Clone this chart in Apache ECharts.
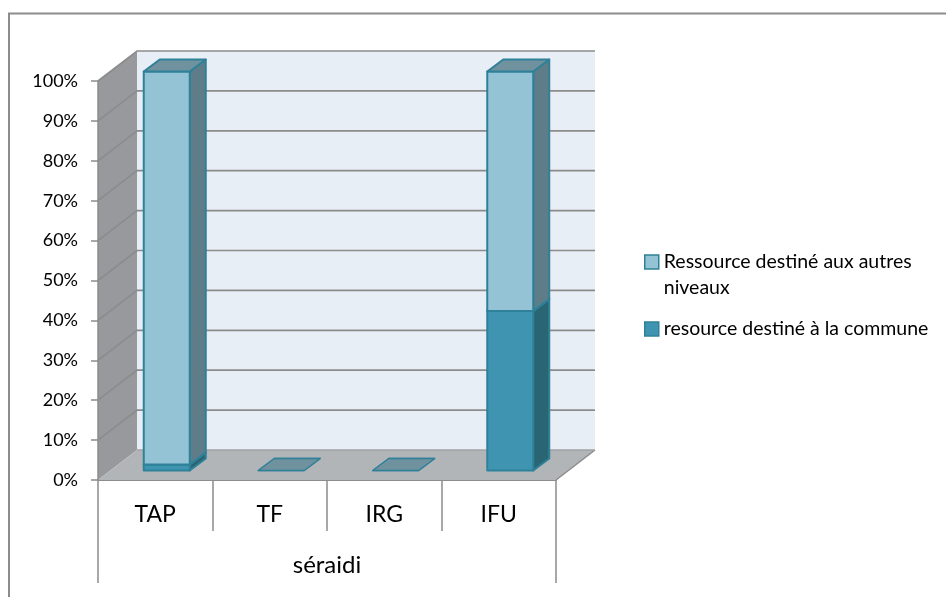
<!DOCTYPE html>
<html><head><meta charset="utf-8">
<style>html,body{margin:0;padding:0;background:#fff}#c{width:946px;height:597px}</style>
<script src="https://cdn.jsdelivr.net/npm/echarts@6/dist/echarts.min.js"></script>
</head><body><div id="c"></div>
<script>
const categories = ['TAP', 'TF', 'IRG', 'IFU'];
const groupLabel = ['séraidi'];
const nameAutres = 'Ressource destiné aux autres niveaux';
const nameCommune = 'resource destiné à la commune';
const communeValues = [1.5, 0, 0, 40];
const autresValues = [98.5, 0, 0, 60];
const yTicks = [0, 10, 20, 30, 40, 50, 60, 70, 80, 90, 100];

const WALL = [39, -30], OFF = [11.5, -9.5], DEPTH = [16, -12], BW = 46;
const LINE = '#8c8c8c';

function poly(points, fill, stroke, lw) {
  return { type: 'polygon', shape: { points }, style: { fill, stroke: stroke || null, lineWidth: lw || 0, lineJoin: 'round' } };
}
function frameRender(params, api) {
  const cs = params.coordSys;
  const x0 = cs.x, w = cs.width, yT = cs.y, y0 = cs.y + cs.height;
  const [dx, dy] = WALL;
  return { type: 'group', children: [
    poly([[x0+dx, yT+dy],[x0+dx+w, yT+dy],[x0+dx+w, y0+dy],[x0+dx, y0+dy]], '#e8eef5'),
    poly([[x0, yT],[x0+dx, yT+dy],[x0+dx, y0+dy],[x0, y0]], '#97999c'),
    poly([[x0, y0],[x0+dx, y0+dy],[x0+dx+w, y0+dy],[x0+w, y0]], '#b2b5b8'),
    { type: 'line', shape: { x1: x0+w, y1: y0, x2: x0+w+dx, y2: y0+dy }, style: { stroke: LINE, lineWidth: 1.5 } },
    { type: 'line', shape: { x1: x0, y1: yT, x2: x0, y2: y0 }, style: { stroke: LINE, lineWidth: 1.5 } },
    { type: 'line', shape: { x1: x0+dx, y1: y0+dy, x2: x0+dx+w, y2: y0+dy }, style: { stroke: '#a0a2a5', lineWidth: 1.5 } }
  ]};
}
function gridRender(params, api) {
  const cs = params.coordSys;
  const y = api.coord([0, api.value(0)])[1];
  const x = cs.x, w = cs.width;
  const [dx, dy] = WALL;
  return { type: 'polyline', shape: { points: [[x, y], [x+dx, y+dy], [x+dx+w, y+dy]] }, style: { stroke: LINE, lineWidth: 1.7, fill: null } };
}
function barRender(colors) {
  return function (params, api) {
    const i = api.value(0);
    const lo = api.coord([i, api.value(1)]);
    const hi = api.coord([i, api.value(2)]);
    const x0 = lo[0] + OFF[0] - BW/2, x1 = x0 + BW;
    const yb = lo[1] + OFF[1], yt = hi[1] + OFF[1];
    const [dx, dy] = DEPTH;
    const kids = [];
    const flat = yb - yt < 0.5;
    const lw = flat ? 1.3 : 2;
    if (!flat) {
      kids.push(poly([[x1,yb],[x1+dx,yb+dy],[x1+dx,yt+dy],[x1,yt]], colors.side, colors.edge, lw));
      kids.push(poly([[x0,yb],[x1,yb],[x1,yt],[x0,yt]], colors.front, colors.edge, lw));
    }
    kids.push(poly([[x0,yt],[x1,yt],[x1+dx,yt+dy],[x0+dx,yt+dy]], colors.top, colors.edge, lw));
    return { type: 'group', children: kids };
  };
}
const communeColors = { front: '#3f95b1', side: '#2a6573', top: '#2a6f85', edge: '#2f8199' };
const autresColors = { front: '#93c3d5', side: '#5f7d88', top: '#70919e', edge: '#2f8199' };

const chart = echarts.init(document.getElementById('c'), null, { renderer: 'canvas' });
chart.setOption({
  animation: false,
  textStyle: { fontFamily: 'Lato' },
  grid: { left: 98, right: 390, top: 81, bottom: 117, containLabel: false },
  graphic: [{ type: 'polyline', silent: true, z: -10, shape: { points: [[9, 597], [9, 13.5], [946, 13.5]] }, style: { fill: null, stroke: '#8c8c8c', lineWidth: 2 } }],
  legend: {
    orient: 'vertical', left: 639, top: 218, itemWidth: 14, itemHeight: 14, itemGap: 15,
    formatter: n => n === nameAutres ? '\nRessource destiné aux autres\nniveaux' : n,
    textStyle: { fontFamily: 'Lato', fontSize: 19.5, color: '#000', lineHeight: 26 },
    data: [
      { name: nameAutres, icon: 'rect', itemStyle: { color: autresColors.front, borderColor: autresColors.edge, borderWidth: 1.5 } },
      { name: nameCommune, icon: 'rect', itemStyle: { color: communeColors.front, borderColor: communeColors.edge, borderWidth: 1.5 } }
    ]
  },
  xAxis: [
    { type: 'category', data: categories, position: 'bottom',
      axisLine: { show: true, lineStyle: { color: LINE, width: 2 } },
      axisTick: { show: true, length: 51, alignWithLabel: false, lineStyle: { color: LINE, width: 1.5 } },
      axisLabel: { fontSize: 23, color: '#000', margin: 23, fontFamily: 'Lato' },
      splitLine: { show: false } },
    { type: 'category', data: groupLabel, position: 'bottom', offset: 51,
      axisLine: { show: false },
      axisTick: { show: true, length: 52, lineStyle: { color: LINE, width: 1.5 } },
      axisLabel: { fontSize: 24, color: '#000', margin: 22, fontFamily: 'Lato' },
      splitLine: { show: false } }
  ],
  yAxis: {
    type: 'value', min: 0, max: 100, interval: 10,
    axisLine: { show: false },
    axisTick: { show: true, length: 7, lineStyle: { color: LINE, width: 1.5 } },
    axisLabel: { formatter: '{value}%', fontSize: 18, color: '#000', margin: 20, fontFamily: 'Lato' },
    splitLine: { show: false }
  },
  series: [
    { type: 'custom', name: 'frame', silent: true, z: 1, renderItem: frameRender, data: [[0]], clip: false, encode: { x: -1, y: -1 } },
    { type: 'custom', name: 'grid', silent: true, z: 2, renderItem: gridRender, data: yTicks.slice(1).map(v => [v]), clip: false, encode: { y: 0, x: -1 } },
    { type: 'custom', name: nameCommune, z: 3, clip: false, renderItem: barRender(communeColors),
      data: categories.map((c, i) => [i, 0, communeValues[i]]), encode: { x: 0, y: [1, 2] } },
    { type: 'custom', name: nameAutres, z: 4, clip: false, renderItem: barRender(autresColors),
      data: categories.map((c, i) => [i, communeValues[i], communeValues[i] + autresValues[i]]), encode: { x: 0, y: [1, 2] } }
  ]
});
</script></body></html>
